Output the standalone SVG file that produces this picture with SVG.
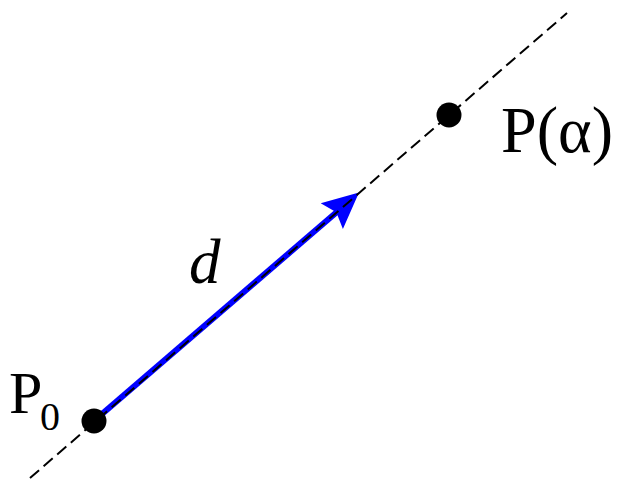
<svg xmlns="http://www.w3.org/2000/svg" width="621" height="479" viewBox="0 0 621 479">
<style>
.lbl{font-family:"Liberation Serif","Times New Roman",serif;fill:#000}
.dot{fill:#000}
.dash{stroke:#000;stroke-width:2;stroke-dasharray:12 6;fill:none}
</style>
<rect width="621" height="479" fill="#fff"/>
<g id="connectors">
<line x1="95" y1="420" x2="338" y2="211" stroke="#0000ff" stroke-width="6"/>
<polygon points="359,192.5 320.7,203.3 336.3,212.2 342.9,228.9" fill="#0000ff"/>
<line class="dash" x1="30" y1="478" x2="567" y2="13"/>
</g>
<g id="P0">
<circle class="dot" cx="94" cy="421" r="12.5"/>
<text class="lbl" x="9" y="413" font-size="60">P</text>
<text class="lbl" x="40" y="430" font-size="40">0</text>
</g>
<g id="Palpha">
<circle class="dot" cx="449" cy="115" r="12.5"/>
<text class="lbl" x="501" y="152" font-size="66" textLength="112" lengthAdjust="spacingAndGlyphs">P(α)</text>
</g>
<g id="d">
<text class="lbl" x="189" y="283" font-size="63" font-style="italic">d</text>
</g>
</svg>
